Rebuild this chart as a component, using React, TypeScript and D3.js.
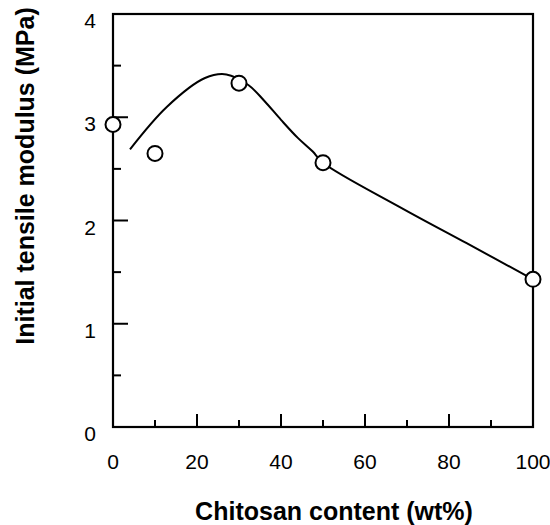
import React from 'react';
import * as d3 from 'd3';

// measured points (chitosan wt%, modulus MPa)
const chitosan = [0, 10, 30, 50, 100];
const modulus = [2.93, 2.65, 3.33, 2.56, 1.43];

// hand-drawn trend curve
const fitX = [4.05, 12.8, 21.9, 27, 32.3, 36, 40, 44, 47.5, 50, 68.3, 84.2, 100];
const fitY = [2.69, 3.10, 3.38, 3.415, 3.31, 3.16, 2.975, 2.80, 2.67, 2.56, 2.13, 1.78, 1.43];

const xMajor = [0, 20, 40, 60, 80, 100];
const xMinor = [10, 30, 50, 70, 90];
const yMajor = [0, 1, 2, 3, 4];
const yMinor = [0.5, 1.5, 2.5, 3.5];

const W = 550, H = 525;
const left = 113, right = 533, top = 14, bottom = 427;

export default function App() {
  const x = d3.scaleLinear().domain([0, 100]).range([left, right]);
  const y = d3.scaleLinear().domain([0, 4]).range([bottom, top]);

  const fit = fitX.map((v, i) => [v, fitY[i]] as [number, number]);
  const line = d3.line<[number, number]>()
    .x(d => x(d[0]))
    .y(d => y(d[1]))
    .curve(d3.curveCatmullRom.alpha(0.5));

  const font = 'Arial, "Liberation Sans", Helvetica, sans-serif';

  return (
    <svg width={W} height={H} style={{ position: 'absolute', left: 0, top: 0, background: '#fff' }}
      fontFamily={font}>
      <rect x={left} y={top} width={right - left} height={bottom - top}
        fill="none" stroke="#000" strokeWidth={2.2} />

      {xMajor.filter(v => v > 0 && v < 100).map(v => (
        <line key={'xM' + v} x1={x(v)} x2={x(v)} y1={bottom} y2={bottom - 13} stroke="#000" strokeWidth={2} />
      ))}
      {xMinor.map(v => (
        <line key={'xm' + v} x1={x(v)} x2={x(v)} y1={bottom} y2={bottom - 7} stroke="#000" strokeWidth={2} />
      ))}
      {yMajor.filter(v => v > 0 && v < 4).map(v => (
        <line key={'yM' + v} x1={left} x2={left + 15} y1={y(v)} y2={y(v)} stroke="#000" strokeWidth={2} />
      ))}
      {yMinor.map(v => (
        <line key={'ym' + v} x1={left} x2={left + 8} y1={y(v)} y2={y(v)} stroke="#000" strokeWidth={2} />
      ))}

      {xMajor.map(v => (
        <text key={'xl' + v} x={x(v)} y={469} textAnchor="middle" fontSize={21}>{v}</text>
      ))}
      {yMajor.map(v => (
        <text key={'yl' + v} x={96} y={y(v) + 14} textAnchor="end" fontSize={21}>{v}</text>
      ))}

      <path d={line(fit) || ''} fill="none" stroke="#000" strokeWidth={2} />

      {chitosan.map((v, i) => (
        <circle key={'p' + v} cx={x(v)} cy={y(modulus[i])} r={7.5}
          fill="#fff" stroke="#000" strokeWidth={2} />
      ))}

      <text x={334} y={520} textAnchor="middle" fontSize={25} fontWeight="bold">
        Chitosan content (wt%)
      </text>
      <text transform="translate(34,176) rotate(-90)" textAnchor="middle" fontSize={25} fontWeight="bold">
        Initial tensile modulus (MPa)
      </text>
    </svg>
  );
}
